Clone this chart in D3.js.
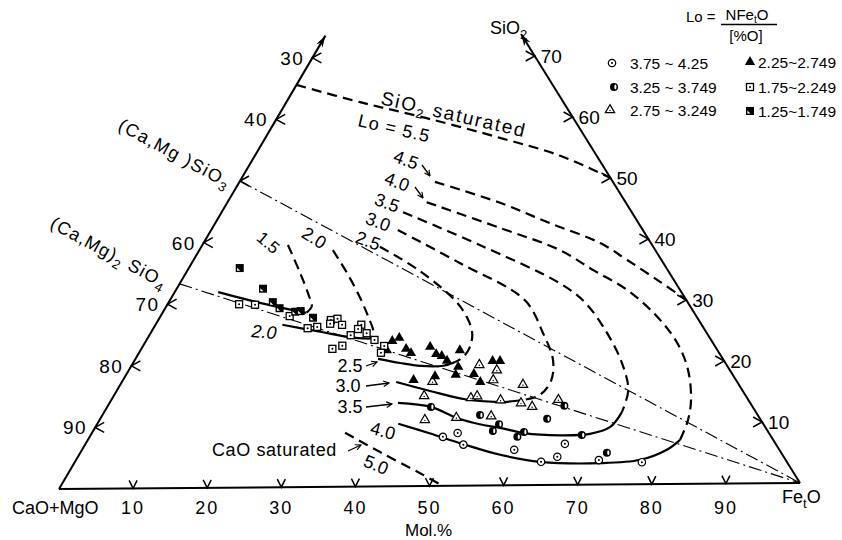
<!DOCTYPE html>
<html lang="en">
<head>
<meta charset="UTF-8">
<title>Lo iso-lines, CaO+MgO - SiO2 - FetO</title>
<script src="https://d3js.org/d3.v7.min.js"></script>
<style>
    body { margin: 0; background: #fff; }
    svg { display: block; font-family: "Liberation Sans", Arial, sans-serif; }
    text { fill: #000; }
</style>
</head>
<body>
<div id="chart"></div>
<script>
    // every composition is [FetO, SiO2] in mol.%, CaO+MgO is the rest

    // measured slags, one array per Lo class
    var lo375 = [[47.9,8.0],[49.6,8.6],[51.3,6.7],[58.6,5.8],[65.0,6.7],[63.2,3.8],[65.0,4.6],[70.9,4.0],[76.9,3.6]];
    var lo325 = [[43.9,12.9],[51.2,11.5],[60.6,10.8],[61.9,12.9],[54.5,10.0],[54.2,8.9],[58.5,8.7],[58.0,7.9],[66.6,8.1],[71.4,5.2]];
    var lo275 = [[47.1,19.7],[49.9,18.8],[42.1,17.0],[50.2,17.2],[54.6,16.4],[42.1,14.7],[48.6,14.3],[49.3,14.6],[52.8,13.9],[55.8,13.4],[57.6,12.8],[60.6,13.9],[44.1,10.8],[48.2,11.1],[52.8,11.3]];
    var lo225 = [[33.4,23.7],[34.1,24.2],[33.4,22.2],[35.9,22.4],[36.9,21.7],[39.0,22.7],[40.4,21.5],[41.3,21.2],[42.4,20.4],[43.3,22.1],[44.4,19.4],[44.7,18.1],[42.0,17.9],[39.4,17.3],[47.1,18.2],[48.6,16.9],[48.6,20.3],[49.6,20.3]];
    var lo175 = [[9.7,29.9],[11.9,29.8],[17.5,27.9],[20.9,25.9],[22.1,26.1],[23.4,27.2],[24.2,27.4],[23.6,26.6],[25.3,26.4],[27.3,24.7],[27.9,26.4],[27.8,25.7],[29.3,25.0],[30.9,23.9],[32.7,22.9],[32.8,21.8],[25.9,22.5],[27.0,23.0]];
    var lo125 = [[6.9,35.8],[11.7,32.4],[14.1,30.2],[15.5,29.2],[17.9,28.6],[18.6,28.7],[20.8,27.6]];

    var legendLabels = ["3.75 ~ 4.25", "3.25 ~ 3.749", "2.75 ~ 3.249", "2.25~2.749", "1.75~2.249", "1.25~1.749"];

    // iso-Lo lines: dashed = estimated part, solid = measured part
    var iso15Dash = [[11.6,39.5],[15.5,34.9],[18.4,31.3],[19.7,29.5],[19.5,28.4]];
    var iso15Solid = [[19.5,28.4],[18.6,28.6],[12.4,30.1],[5.9,31.9]];
    var iso20Dash = [[18.1,38.6],[21.8,34.9],[25.5,30.9],[28.2,27.7],[30.1,25.2],[30.2,24.1]];
    var iso20Solid = [[30.2,24.1],[27.3,24.4],[22.9,25.3],[17.2,26.5]];
    var iso25Dash = [[24.2,39.1],[31.2,35.3],[38.6,30.3],[41.6,27.5],[43.6,24.9],[44.4,22.6],[44.3,21.0],[43.6,20.2]];
    var iso25Solid = [[43.6,20.2],[42.3,19.6],[39.2,19.6],[36.2,20.1],[32.9,20.8]];
    var iso30Dash = [[25.3,41.8],[36.4,36.3],[48.1,30.2],[53.2,24.8],[56.7,20.4],[58.1,17.0],[57.7,14.7],[55.8,13.9]];
    var iso30Solid = [[55.8,13.9],[52.9,13.6],[47.9,14.1],[42.5,15.5],[37.2,17.0]];
    var iso35Dash = [[24.6,44.7],[37.7,39.2],[51.5,32.9],[56.5,29.7],[61.9,24.7],[66.3,19.8],[69.3,15.4],[70.2,11.8]];
    var iso35Solid = [[70.2,11.8],[69.8,9.4],[67.6,8.3],[63.7,8.1],[58.6,8.5],[54.9,9.4],[51.9,10.0],[48.2,11.1],[43.9,12.9],[39.1,13.6]];
    var iso40Dash = [[27.0,46.3],[39.0,42.0],[48.9,38.3],[55.0,35.0],[61.2,31.7],[67.4,27.3],[72.2,23.0],[75.8,18.6],[78.6,13.7],[79.8,10.4],[80.3,7.2]];
    var iso40Solid = [[80.3,7.2],[79.3,5.6],[76.5,4.0],[71.3,3.5],[63.1,3.8],[57.1,5.0],[51.2,6.8],[45.8,8.6],[40.8,10.2]];
    var iso45Dash = [[26.5,49.6],[37.0,46.1],[45.4,42.7],[53.8,39.4],[58.8,36.6],[65.0,33.0],[70.0,30.0]];
    var caoSat = [[34.3,8.8],[40.6,5.6],[47.7,2.1],[51.8,0]];
    var sio2Sat = [[0,65.6],[10.0,62.7],[20.3,60.0],[31.8,56.7],[41.4,53.7],[50.0,50.0]];

    // (Ca,Mg)SiO3 - FetO and (Ca,Mg)2SiO4 - FetO joins
    var metaJoin = [[0,50],[100,0]];
    var orthoJoin = [[0,33.3],[100,0]];

    var leftTicks = [30,40,50,60,70,80,90];          // CaO+MgO
    var leftTickLabels = ["30","40","","60","70","80","90"];
    var rightTicks = [10,20,30,40,50,60,70];         // SiO2
    var bottomTicks = [10,20,30,40,50,60,70,80,90];  // FetO
    var topSiO2 = 73.6;

    var width = 842, height = 540;
    var origin = {x: 59, y: 489};   // CaO+MgO corner

    // the two composition directions as linear scales
    var feX = d3.scaleLinear().domain([0, 100]).range([0, 741]);
    var feY = d3.scaleLinear().domain([0, 100]).range([0, -6]);
    var siX = d3.scaleLinear().domain([0, 100]).range([0, 362]);
    var siY = d3.scaleLinear().domain([0, 100]).range([0, -616]);
    function px(d) { return origin.x + feX(d[0]) + siX(d[1]); }
    function py(d) { return origin.y + feY(d[0]) + siY(d[1]); }

    var svg = d3.select("#chart").append("svg")
        .attr("width", width)
        .attr("height", height);

    var defs = svg.append("defs");
    defs.append("marker")
        .attr("id", "head")
        .attr("viewBox", "0 0 10 10")
        .attr("refX", 9).attr("refY", 5)
        .attr("markerWidth", 7).attr("markerHeight", 7)
        .attr("markerUnits", "userSpaceOnUse")
        .attr("orient", "auto")
        .append("path")
        .attr("d", "M1,1 L9,5 L1,9")
        .attr("fill", "none").attr("stroke", "#000").attr("stroke-width", 1.6);
    defs.append("marker")
        .attr("id", "tip")
        .attr("viewBox", "0 0 10 10")
        .attr("refX", 10).attr("refY", 5)
        .attr("markerWidth", 12).attr("markerHeight", 12)
        .attr("markerUnits", "userSpaceOnUse")
        .attr("orient", "auto")
        .append("path")
        .attr("d", "M0,2 L10,5 L0,8 L3,5 Z")
        .attr("fill", "#000");

    var smooth = d3.line().x(px).y(py).curve(d3.curveCatmullRom.alpha(0.5));
    var straight = d3.line().x(px).y(py);

    // joins (dash-dot)
    svg.append("g").selectAll("path")
        .data([metaJoin, orthoJoin])
        .enter().append("path")
        .attr("d", straight)
        .attr("fill", "none")
        .attr("stroke", "#000")
        .attr("stroke-width", 1.1)
        .attr("stroke-dasharray", "13,4,2,4");

    // triangle sides
    var frame = svg.append("g").attr("stroke", "#000").attr("stroke-width", 2).attr("fill", "none");
    frame.append("path").attr("d", straight([[0, 0], [100, 0]]));
    frame.append("path").attr("d", straight([[0, 0], [0, topSiO2]])).attr("marker-end", "url(#tip)");
    frame.append("path").attr("d", straight([[100, 0], [100 - topSiO2, topSiO2]])).attr("marker-end", "url(#tip)");

    // ticks
    var ticks = svg.append("g").attr("stroke", "#000").attr("stroke-width", 1.5).attr("fill", "none");
    ticks.selectAll(".tl").data(leftTicks).enter().append("path")
        .attr("d", function(v) {
            var x = px([0, 100 - v]), y = py([0, 100 - v]);
            return "M" + (x + 9) + "," + (y - 5) + "L" + x + "," + y + "L" + (x + 9) + "," + (y + 5);
        });
    ticks.selectAll(".tr").data(rightTicks).enter().append("path")
        .attr("d", function(v) {
            var x = px([100 - v, v]), y = py([100 - v, v]);
            return "M" + (x - 9) + "," + (y - 5) + "L" + x + "," + y + "L" + (x - 9) + "," + (y + 5);
        });
    ticks.selectAll(".tb").data(bottomTicks).enter().append("path")
        .attr("d", function(v) {
            var x = px([v, 0]), y = py([v, 0]);
            return "M" + (x - 4) + "," + (y - 8) + "L" + x + "," + y + "L" + (x + 4) + "," + (y - 8);
        });

    var labels = svg.append("g");
    labels.selectAll(".ll").data(leftTicks).enter().append("text")
        .attr("x", function(v) { return px([0, 100 - v]) - 8; })
        .attr("y", function(v) { return py([0, 100 - v]) + 7; })
        .attr("text-anchor", "end")
        .attr("font-size", 19)
        .attr("letter-spacing", 1.5)
        .text(function(v, i) { return leftTickLabels[i]; });
    labels.selectAll(".lr").data(rightTicks).enter().append("text")
        .attr("x", function(v) { return px([100 - v, v]) + 6; })
        .attr("y", function(v) { return py([100 - v, v]) + 7; })
        .attr("font-size", 19)
        .text(function(v) { return v; });
    labels.selectAll(".lb").data(bottomTicks).enter().append("text")
        .attr("x", function(v) { return px([v, 0]); })
        .attr("y", 514)
        .attr("text-anchor", "middle")
        .attr("font-size", 18)
        .attr("letter-spacing", 2)
        .text(function(v) { return v; });

    // iso-Lo lines
    var dashedSets = [iso15Dash, iso20Dash, iso25Dash, iso30Dash, iso35Dash, iso40Dash, iso45Dash, caoSat, sio2Sat];
    var solidSets = [iso15Solid, iso20Solid, iso25Solid, iso30Solid, iso35Solid, iso40Solid];
    svg.append("g").selectAll("path").data(dashedSets).enter().append("path")
        .attr("d", smooth)
        .attr("fill", "none")
        .attr("stroke", "#000")
        .attr("stroke-width", 2.2)
        .attr("stroke-dasharray", "10,6");
    svg.append("g").selectAll("path").data(solidSets).enter().append("path")
        .attr("d", smooth)
        .attr("fill", "none")
        .attr("stroke", "#000")
        .attr("stroke-width", 2.2);

    // symbols
    function drawSymbol(g, kind) {
        if (kind === "dotCircle") {
            g.append("circle").attr("r", 3.7).attr("fill", "#fff").attr("stroke", "#000").attr("stroke-width", 1.2);
            g.append("circle").attr("r", 1).attr("fill", "#000");
        } else if (kind === "halfCircle") {
            g.append("circle").attr("r", 4).attr("fill", "#000");
            g.append("ellipse").attr("cx", 1.4).attr("rx", 1.1).attr("ry", 2.4).attr("fill", "#fff");
        } else if (kind === "openTri") {
            g.append("path").attr("d", d3.symbol(d3.symbolTriangle, 38)()).attr("fill", "#fff").attr("stroke", "#000").attr("stroke-width", 1.2);
            g.append("circle").attr("r", 0.7).attr("cy", 0.5).attr("fill", "#000");
        } else if (kind === "fillTri") {
            g.append("path").attr("d", d3.symbol(d3.symbolTriangle, 46)()).attr("fill", "#000");
        } else if (kind === "dotSquare") {
            g.append("rect").attr("x", -3.5).attr("y", -3.5).attr("width", 7).attr("height", 7)
                .attr("fill", "#fff").attr("stroke", "#000").attr("stroke-width", 1.3);
            g.append("circle").attr("r", 1).attr("fill", "#000");
        } else {
            g.append("rect").attr("x", -4).attr("y", -4).attr("width", 8).attr("height", 8).attr("fill", "#000");
            g.append("path").attr("d", "M-2.6,2.6 L-2.6,-0.4 L0.4,2.6 Z").attr("fill", "#fff");
        }
    }

    var series = [
        {data: lo375, kind: "dotCircle"},
        {data: lo325, kind: "halfCircle"},
        {data: lo275, kind: "openTri"},
        {data: lo225, kind: "fillTri"},
        {data: lo175, kind: "dotSquare"},
        {data: lo125, kind: "notchSquare"}
    ];
    series.forEach(function(s) {
        svg.append("g").selectAll("g").data(s.data).enter().append("g")
            .attr("transform", function(d) { return "translate(" + px(d) + "," + py(d) + ")"; })
            .each(function() { drawSymbol(d3.select(this), s.kind); });
    });

    // legend
    var legendPos = [[612, 63], [614, 87], [610, 110], [750, 62], [750, 87], [750, 111]];
    series.forEach(function(s, i) {
        var g = svg.append("g").attr("transform", "translate(" + legendPos[i][0] + "," + legendPos[i][1] + ")");
        drawSymbol(g, s.kind);
        svg.append("text")
            .attr("x", i < 3 ? 630 : 758)
            .attr("y", legendPos[i][1] + 6)
            .attr("font-size", 15.5)
            .text(legendLabels[i]);
    });
    svg.append("text").attr("x", 686).attr("y", 22).attr("font-size", 15).text("Lo =");
    var num = svg.append("text").attr("x", 747).attr("y", 20).attr("font-size", 15).attr("text-anchor", "middle");
    num.append("tspan").text("NFe");
    num.append("tspan").attr("font-size", 10).attr("dy", 3).text("t");
    num.append("tspan").attr("dy", -3).text("O");
    svg.append("line").attr("x1", 721).attr("x2", 777).attr("y1", 24.5).attr("y2", 24.5)
        .attr("stroke", "#000").attr("stroke-width", 1.3);
    svg.append("text").attr("x", 746).attr("y", 41).attr("font-size", 15).attr("text-anchor", "middle").text("[%O]");

    // text on the diagram
    function note(x, y, rot, str, size, anchor) {
        return svg.append("text")
            .attr("transform", "translate(" + x + "," + y + ") rotate(" + rot + ")")
            .attr("font-size", size)
            .attr("text-anchor", anchor || "middle")
            .attr("dominant-baseline", anchor ? "auto" : "central")
            .text(str);
    }

    note(406, 160, 20, "4.5", 18);
    note(397, 182, 20, "4.0", 18);
    note(387, 203, 20, "3.5", 18);
    note(378, 222, 20, "3.0", 18);
    note(368, 241, 20, "2.5", 18);
    note(314, 238, 32, "2.0", 18);
    note(268, 243, 40, "1.5", 17);
    note(264, 332, 5, "2.0", 18).attr("font-style", "italic");
    note(350, 366, 0, "2.5", 18);
    note(348, 386, 0, "3.0", 18);
    note(350, 407, 0, "3.5", 18);
    note(383, 431, 15, "4.0", 18);
    note(376, 465, 22, "5.0", 18);
    note(212, 456, 0, "CaO saturated", 18, "start").attr("letter-spacing", 0.6);
    note(357, 126, 13, "Lo = 5.5", 18, "start").attr("letter-spacing", 1);

    var sat = note(380, 104, 13, "", 19, "start").attr("letter-spacing", 1.8);
    sat.append("tspan").text("SiO");
    sat.append("tspan").attr("font-size", 13).attr("dy", 5).text("2");
    sat.append("tspan").attr("dy", -5).text("  saturated");

    var meta = note(117, 129, 28.5, "", 18, "start").attr("letter-spacing", 1.5);
    meta.append("tspan").text("(Ca,Mg )SiO");
    meta.append("tspan").attr("font-size", 13).attr("dy", 5).text("3");

    var ortho = note(49, 227, 28.5, "", 18, "start").attr("letter-spacing", 1.2);
    ortho.append("tspan").text("(Ca,Mg)");
    ortho.append("tspan").attr("font-size", 13).attr("dy", 5).text("2");
    ortho.append("tspan").attr("dy", -5).text(" SiO");
    ortho.append("tspan").attr("font-size", 13).attr("dy", 5).text("4");

    // short pointers from labels to their lines
    var pointers = [
        [[422, 165], [430, 176]],
        [[415, 187], [423, 198]],
        [[366, 366], [377, 362]],
        [[366, 386], [389, 383]],
        [[366, 407], [392, 404]],
        [[348, 451], [361, 445]]
    ];
    svg.append("g").selectAll("line").data(pointers).enter().append("line")
        .attr("x1", function(d) { return d[0][0]; })
        .attr("y1", function(d) { return d[0][1]; })
        .attr("x2", function(d) { return d[1][0]; })
        .attr("y2", function(d) { return d[1][1]; })
        .attr("stroke", "#000")
        .attr("stroke-width", 1.3)
        .attr("marker-end", "url(#head)");

    // corner labels
    svg.append("text").attr("x", 12).attr("y", 514).attr("font-size", 18).text("CaO+MgO");
    var fe = svg.append("text").attr("x", 782).attr("y", 503).attr("font-size", 18);
    fe.append("tspan").text("Fe");
    fe.append("tspan").attr("font-size", 13).attr("dy", 5).text("t");
    fe.append("tspan").attr("dy", -5).text("O");
    var si = svg.append("text").attr("x", 490).attr("y", 34).attr("font-size", 18);
    si.append("tspan").text("SiO");
    si.append("tspan").attr("font-size", 13).attr("dy", 5).text("2");
    svg.append("text").attr("x", 405).attr("y", 536).attr("font-size", 17).text("Mol.%");
</script>
</body>
</html>
